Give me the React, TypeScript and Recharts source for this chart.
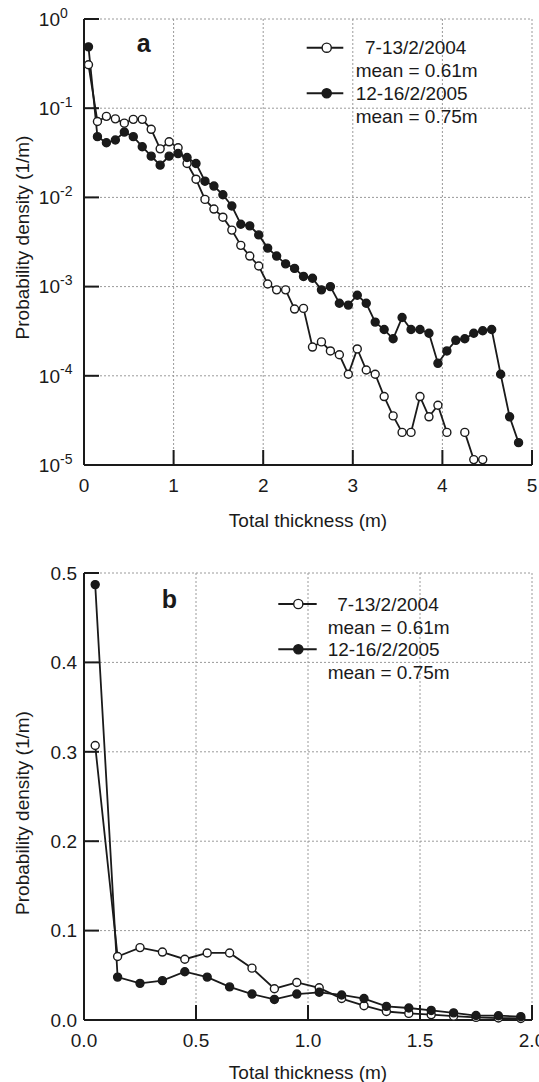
import React from 'react';
import { LineChart, Line, XAxis, YAxis, CartesianGrid, Legend, Customized } from 'recharts';

const FONT = '"Liberation Sans", Arial, Helvetica, sans-serif';
const INK = '#1a1a1a';

// bin centres (m)
const thickness = [
  0.05, 0.15, 0.25, 0.35, 0.45, 0.55, 0.65, 0.75, 0.85, 0.95,
  1.05, 1.15, 1.25, 1.35, 1.45, 1.55, 1.65, 1.75, 1.85, 1.95,
  2.05, 2.15, 2.25, 2.35, 2.45, 2.55, 2.65, 2.75, 2.85, 2.95,
  3.05, 3.15, 3.25, 3.35, 3.45, 3.55, 3.65, 3.75, 3.85, 3.95,
  4.05, 4.15, 4.25, 4.35, 4.45, 4.55, 4.65, 4.75, 4.85,
];

// 7-13/2/2004 (open circles)
const density2004: (number | null)[] = [
  0.307, 0.071, 0.081, 0.076, 0.068, 0.075, 0.075, 0.058, 0.035, 0.042,
  0.036, 0.024, 0.016, 0.0095, 0.0074, 0.006, 0.0043, 0.0029, 0.0022, 0.0017,
  0.00107, 0.00092, 0.00092, 0.00056, 0.00057, 0.00021, 0.00024, 0.00019, 0.000172, 0.000104,
  0.0002, 0.000116, 0.000104, 0.0000585, 0.0000355, 0.0000232, 0.0000232, 0.0000585, 0.0000347, 0.0000467,
  0.0000232, null, 0.0000232, 0.0000115, 0.0000115, null, null, null, null,
];

// 12-16/2/2005 (filled circles)
const density2005: (number | null)[] = [
  0.487, 0.048, 0.041, 0.044, 0.054, 0.048, 0.037, 0.029, 0.023, 0.029,
  0.031, 0.028, 0.024, 0.0152, 0.0134, 0.0107, 0.008, 0.005, 0.0048, 0.0038,
  0.0027, 0.0022, 0.0018, 0.0016, 0.0013, 0.00124, 0.00092, 0.001, 0.00065, 0.00062,
  0.0008, 0.00065, 0.0004, 0.00033, 0.00026, 0.00045, 0.00033, 0.00033, 0.0003, 0.000138,
  0.00019, 0.00025, 0.00026, 0.0003, 0.00032, 0.00033, 0.000104, 0.0000347, 0.0000178,
];

const seriesNames = ['7-13/2/2004', '12-16/2/2005'];
const meanLabels = ['mean = 0.61m', 'mean = 0.75m'];
const panelLetters = ['a', 'b'];
const xTitle = 'Total thickness (m)';
const yTitle = 'Probability density (1/m)';

const ticksYlog = [1e-5, 1e-4, 1e-3, 1e-2, 1e-1, 1];
const ticksXa = [0, 1, 2, 3, 4, 5];
const ticksXb = [0, 0.5, 1, 1.5, 2];
const ticksYb = [0, 0.1, 0.2, 0.3, 0.4, 0.5];

const rows = thickness.map((t, i) => ({ t, y2004: density2004[i], y2005: density2005[i] }));
const rowsB = rows.filter((r) => r.t <= 2);

const XTick = (props: any) => {
  const { x, y, payload, decimals } = props;
  const v = Number(payload.value);
  return (
    <g>
      <line x1={x} y1={y} x2={x} y2={y - 15} stroke={INK} strokeWidth={2} />
      <text x={x} y={y + 26.5} textAnchor="middle" fontSize={19} fontFamily={FONT} fill={INK}>
        {decimals ? v.toFixed(1) : String(v)}
      </text>
    </g>
  );
};

const YLogTick = (props: any) => {
  const { x, y, payload } = props;
  const exp = Math.round(Math.log10(Number(payload.value)));
  return (
    <g>
      <line x1={x} y1={y} x2={x + 15} y2={y} stroke={INK} strokeWidth={2} />
      <text x={x - 24} y={y + 6.8} textAnchor="end" fontSize={19} fontFamily={FONT} fill={INK}>10</text>
      <text x={x - 24} y={y - 1.5} textAnchor="start" fontSize={14} fontFamily={FONT} fill={INK}>{String(exp)}</text>
    </g>
  );
};

const YLinTick = (props: any) => {
  const { x, y, payload } = props;
  return (
    <g>
      <line x1={x} y1={y} x2={x + 15} y2={y} stroke={INK} strokeWidth={2} />
      <text x={x - 7} y={y + 6.8} textAnchor="end" fontSize={19} fontFamily={FONT} fill={INK}>
        {Number(payload.value).toFixed(1)}
      </text>
    </g>
  );
};

const makeXTitle = (baseOffset: number, fallback: { x: number; y: number; width: number }) => (p: any) => {
  const vb = p && p.viewBox && typeof p.viewBox.x === 'number' ? p.viewBox : fallback;
  return (
    <text x={vb.x + vb.width / 2} y={vb.y + baseOffset} textAnchor="middle" fontSize={19} fontFamily={FONT} fill={INK}>
      {xTitle}
    </text>
  );
};

const makeYTitle = (cx: number, cy: number) => () => (
  <text x={cx} y={cy} transform={`rotate(-90 ${cx} ${cy})`} textAnchor="middle" fontSize={19} fontFamily={FONT} fill={INK}>
    {yTitle}
  </text>
);

type LegendCfg = {
  lineX1: number; lineX2: number; cx: number; markerY: number[];
  textX: number[]; baselines: number[];
};

const LegendBox = ({ cfg }: { cfg: LegendCfg }) => (
  <svg width={240} height={104} style={{ display: 'block', overflow: 'visible' }}>
    {[0, 1].map((k) => (
      <g key={k}>
        <line x1={cfg.lineX1} x2={cfg.lineX2} y1={cfg.markerY[k]} y2={cfg.markerY[k]} stroke={INK} strokeWidth={2} />
        <circle cx={cfg.cx} cy={cfg.markerY[k]} r={4.6} fill={k === 0 ? '#fff' : INK} stroke={INK} strokeWidth={1.4} />
        <text x={cfg.textX[k * 2]} y={cfg.baselines[k * 2]} fontSize={19} fontFamily={FONT} fill={INK}>{seriesNames[k]}</text>
        <text x={cfg.textX[k * 2 + 1]} y={cfg.baselines[k * 2 + 1]} fontSize={19} fontFamily={FONT} fill={INK}>{meanLabels[k]}</text>
      </g>
    ))}
  </svg>
);

const legendTop: LegendCfg = {
  lineX1: 6.7, lineX2: 43.3, cx: 26.7, markerY: [19.7, 65.3],
  textX: [65, 55.7, 55.7, 55.7], baselines: [26, 49.3, 72, 95.3],
};
const legendBottom: LegendCfg = {
  lineX1: 8.3, lineX2: 46.7, cx: 28.3, markerY: [14, 59.3],
  textX: [67.3, 57.7, 57.7, 57.7], baselines: [20.7, 44, 66, 89.3],
};

const openDot = { r: 4, fill: '#fff', stroke: INK, strokeWidth: 1.4 };
const fullDot = { r: 4, fill: INK, stroke: INK, strokeWidth: 1.4 };

export default function App() {
  return (
    <div style={{ position: 'absolute', left: 0, top: 0, width: 539, height: 1082, background: '#fff', overflow: 'hidden' }}>
      <LineChart width={539} height={540} data={rows} margin={{ top: 19, right: 7, bottom: 12, left: 0 }}>
        <CartesianGrid stroke="#9a9a9a" strokeDasharray="2 2" />
        <XAxis
          dataKey="t" type="number" domain={[0, 5]} ticks={ticksXa} height={63}
          tickSize={0} tickMargin={0} tickLine={false}
          axisLine={{ stroke: INK, strokeWidth: 2 }}
          tick={(p: any) => <XTick {...p} decimals={false} />}
          label={{ content: makeXTitle(62, { x: 84, y: 465, width: 448 }) }}
        />
        <YAxis
          type="number" scale="log" domain={[1e-5, 1]} ticks={ticksYlog} allowDataOverflow width={84}
          tickSize={0} tickMargin={0} tickLine={false}
          axisLine={{ stroke: INK, strokeWidth: 2 }}
          tick={(p: any) => <YLogTick {...p} />}
          label={{ content: makeYTitle(29, 237.5) }}
        />
        <Legend
          layout="vertical" align="center" verticalAlign="middle"
          wrapperStyle={{ position: 'absolute', left: 300, top: 28, width: 235, height: 104 }}
          content={() => <LegendBox cfg={legendTop} />}
        />
        <Line dataKey="y2004" name={seriesNames[0]} type="linear" stroke={INK} strokeWidth={1.8} dot={openDot} activeDot={false} isAnimationActive={false} />
        <Line dataKey="y2005" name={seriesNames[1]} type="linear" stroke={INK} strokeWidth={1.8} dot={fullDot} activeDot={false} isAnimationActive={false} />
        <Customized component={() => (
          <text x={136.7} y={51.7} fontSize={25} fontWeight="bold" fontFamily={FONT} fill={INK}>{panelLetters[0]}</text>
        )} />
      </LineChart>
      <LineChart width={539} height={542} data={rowsB} margin={{ top: 33, right: 7, bottom: 0, left: 0 }}>
        <CartesianGrid stroke="#9a9a9a" strokeDasharray="2 2" />
        <XAxis
          dataKey="t" type="number" domain={[0, 2]} ticks={ticksXb} height={62}
          tickSize={0} tickMargin={0} tickLine={false}
          axisLine={{ stroke: INK, strokeWidth: 2 }}
          tick={(p: any) => <XTick {...p} decimals />}
          label={{ content: makeXTitle(58.5, { x: 84, y: 480, width: 448 }) }}
        />
        <YAxis
          type="number" domain={[0, 0.5]} ticks={ticksYb} width={84}
          tickSize={0} tickMargin={0} tickLine={false}
          axisLine={{ stroke: INK, strokeWidth: 2 }}
          tick={(p: any) => <YLinTick {...p} />}
          label={{ content: makeYTitle(29, 273) }}
        />
        <Legend
          layout="vertical" align="center" verticalAlign="middle"
          wrapperStyle={{ position: 'absolute', left: 270, top: 50, width: 240, height: 104 }}
          content={() => <LegendBox cfg={legendBottom} />}
        />
        <Line dataKey="y2004" name={seriesNames[0]} type="linear" stroke={INK} strokeWidth={1.8} dot={openDot} activeDot={false} isAnimationActive={false} />
        <Line dataKey="y2005" name={seriesNames[1]} type="linear" stroke={INK} strokeWidth={1.8} dot={fullDot} activeDot={false} isAnimationActive={false} />
        <Customized component={() => (
          <text x={161.7} y={68.3} fontSize={25} fontWeight="bold" fontFamily={FONT} fill={INK}>{panelLetters[1]}</text>
        )} />
      </LineChart>
    </div>
  );
}
